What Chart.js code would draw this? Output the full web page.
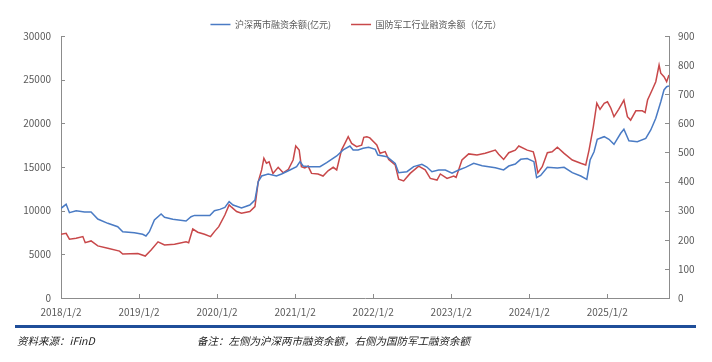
<!DOCTYPE html>
<html>
<head>
<meta charset="utf-8">
<script src="https://cdn.jsdelivr.net/npm/chart.js@4.4.1/dist/chart.umd.min.js"></script>
<style>
    body { margin: 0; background: #fff; }
    #wrap { position: relative; width: 712px; height: 362px; overflow: hidden; }
    .rule { position: absolute; left: 15px; top: 325px; width: 681px; height: 3px; background: #1f4e99; }
    .note { position: absolute; top: 333px; font: italic 10.5px "Noto Sans CJK SC", sans-serif; color: #222; white-space: nowrap; }
</style>
</head>
<body>
<div id="wrap">
    <canvas id="chart" width="712" height="362"></canvas>
    <div class="rule"></div>
    <div class="note" style="left:17px">资料来源：iFinD</div>
    <div class="note" style="left:197px">备注：左侧为沪深两市融资余额，右侧为国防军工融资余额</div>
</div>
<script>
const seriesNames = ['沪深两市融资余额(亿元)', '国防军工行业融资余额（亿元）'];
const yearLabels = ['2018/1/2', '2019/1/2', '2020/1/2', '2021/1/2', '2022/1/2', '2023/1/2', '2024/1/2', '2025/1/2'];

// 沪深两市融资余额, 亿元 (left axis)
const marginDates = [
    '2018-01-02', '2018-01-26', '2018-02-11', '2018-03-12', '2018-04-21', '2018-05-21', '2018-06-22', '2018-08-08',
    '2018-09-24', '2018-10-17', '2018-12-11', '2019-01-19', '2019-02-04', '2019-02-20', '2019-03-13', '2019-04-14',
    '2019-04-30', '2019-06-08', '2019-08-09', '2019-09-02', '2019-09-18', '2019-11-29', '2019-12-20', '2020-01-15',
    '2020-02-08', '2020-02-28', '2020-03-16', '2020-04-25', '2020-06-03', '2020-06-27', '2020-07-12', '2020-07-28',
    '2020-08-28', '2020-10-06', '2020-10-30', '2020-12-08', '2021-01-09', '2021-01-25', '2021-02-09', '2021-03-10',
    '2021-04-27', '2021-05-28', '2021-07-14', '2021-08-14', '2021-09-15', '2021-09-30', '2021-10-23', '2021-11-16',
    '2021-12-11', '2022-01-12', '2022-01-24', '2022-03-06', '2022-04-14', '2022-04-30', '2022-06-08', '2022-07-09',
    '2022-08-17', '2022-09-10', '2022-10-03', '2022-11-04', '2022-12-05', '2023-01-06', '2023-02-07', '2023-03-08',
    '2023-04-16', '2023-05-25', '2023-07-26', '2023-09-04', '2023-09-28', '2023-10-28', '2023-11-23', '2023-12-23',
    '2024-01-24', '2024-02-06', '2024-02-25', '2024-03-26', '2024-05-12', '2024-06-13', '2024-07-21', '2024-08-30',
    '2024-09-28', '2024-10-13', '2024-11-01', '2024-11-16', '2024-12-18', '2025-01-10', '2025-02-03', '2025-03-04',
    '2025-03-19', '2025-04-12', '2025-05-21', '2025-06-30', '2025-07-23', '2025-08-16', '2025-09-09', '2025-09-24',
    '2025-10-06', '2025-10-17'
];
const marginValues = [
    10270, 10730, 9770, 10000, 9850, 9850, 9040, 8550,
    8160, 7590, 7480, 7290, 7100, 7590, 8930, 9620,
    9240, 9010, 8820, 9310, 9460, 9450, 10000, 10150,
    10380, 11030, 10650, 10300, 10650, 11220, 13320, 13970,
    14200, 13970, 14200, 14660, 15040, 15610, 15110, 15040,
    15040, 15500, 16260, 16950, 17400, 16950, 16950, 17140,
    17250, 17020, 16370, 16180, 15420, 14350, 14460, 15040,
    15310, 15000, 14460, 14660, 14660, 14280, 14660, 14960,
    15420, 15150, 14920, 14660, 15110, 15340, 15880, 15960,
    15610, 13780, 14040, 14960, 14880, 14960, 14350, 13970,
    13590, 15800, 16750, 18170, 18470, 18170, 17600, 18860,
    19320, 18010, 17900, 18280, 19240, 20580, 22480, 23820,
    24190, 24270
];

// 国防军工行业融资余额, 亿元 (right axis)
const defenseDates = [
    '2018-01-02', '2018-01-26', '2018-02-11', '2018-03-12', '2018-04-13', '2018-04-24', '2018-05-21', '2018-06-22',
    '2018-08-08', '2018-10-02', '2018-10-17', '2018-12-27', '2019-01-31', '2019-02-28', '2019-03-30', '2019-04-30',
    '2019-06-16', '2019-08-09', '2019-08-21', '2019-09-10', '2019-10-03', '2019-11-04', '2019-12-02', '2019-12-20',
    '2020-01-10', '2020-02-08', '2020-02-28', '2020-03-09', '2020-04-02', '2020-04-25', '2020-06-03', '2020-06-27',
    '2020-07-12', '2020-07-28', '2020-08-08', '2020-08-20', '2020-09-02', '2020-09-20', '2020-10-14', '2020-11-07',
    '2020-12-01', '2020-12-23', '2021-01-05', '2021-01-21', '2021-02-01', '2021-02-17', '2021-03-02', '2021-03-18',
    '2021-04-18', '2021-05-11', '2021-06-04', '2021-06-28', '2021-07-14', '2021-08-06', '2021-08-22', '2021-09-07',
    '2021-09-23', '2021-10-16', '2021-11-09', '2021-11-19', '2021-12-03', '2021-12-17', '2022-01-19', '2022-02-04',
    '2022-02-28', '2022-03-14', '2022-04-14', '2022-04-30', '2022-05-23', '2022-06-23', '2022-08-02', '2022-09-02',
    '2022-09-26', '2022-10-27', '2022-11-12', '2022-12-13', '2023-01-14', '2023-01-25', '2023-02-22', '2023-03-23',
    '2023-05-01', '2023-06-09', '2023-07-26', '2023-08-11', '2023-09-04', '2023-09-28', '2023-10-28', '2023-11-14',
    '2023-12-23', '2024-01-21', '2024-02-01', '2024-02-12', '2024-03-02', '2024-03-26', '2024-04-18', '2024-05-12',
    '2024-06-13', '2024-07-21', '2024-08-30', '2024-09-23', '2024-10-08', '2024-10-28', '2024-11-14', '2024-11-29',
    '2024-12-18', '2025-01-03', '2025-01-19', '2025-02-03', '2025-02-25', '2025-03-19', '2025-04-05', '2025-04-20',
    '2025-05-14', '2025-06-14', '2025-06-27', '2025-07-08', '2025-07-31', '2025-08-16', '2025-09-01', '2025-09-09',
    '2025-09-24', '2025-10-06', '2025-10-17'
];
const defenseValues = [
    219, 222, 202, 205, 211, 190, 196, 179,
    171, 161, 151, 153, 144, 165, 193, 182,
    185, 193, 190, 237, 226, 219, 211, 228,
    245, 285, 320, 312, 297, 291, 297, 314,
    400, 440, 480, 463, 468, 428, 449, 430,
    442, 474, 522, 508, 451, 447, 453, 428,
    426, 419, 437, 449, 440, 508, 531, 554,
    531, 520, 525, 552, 554, 550, 526, 497,
    503, 476, 457, 408, 402, 428, 453, 440,
    411, 405, 426, 411, 419, 414, 474, 495,
    491, 497, 508, 494, 476, 499, 508, 522,
    508, 502, 474, 430, 451, 499, 502, 518,
    497, 474, 463, 457, 508, 588, 669, 648,
    669, 674, 652, 623, 648, 680, 623, 611,
    643, 643, 637, 680, 717, 743, 800, 772,
    760, 743, 766
];

// years since 2018/1/2
function toYears(s) {
    const [y, m, d] = s.split('-').map(Number);
    return (y - 2018) + (m - 1) / 12 + (d - 2) / 365;
}
const toPoints = (dates, values) => dates.map((d, i) => ({ x: toYears(d), y: values[i] }));

const textColor = '#595959';
const axisColor = '#8c8c8c';
const tickFont = { family: '"Noto Sans CJK SC", sans-serif', size: 10 };

// short tick marks pointing into the plot, like the office chart
const innerTicks = {
    id: 'innerTicks',
    afterDatasetsDraw(chart) {
        const { ctx, chartArea, scales } = chart;
        ctx.save();
        ctx.strokeStyle = axisColor;
        ctx.lineWidth = 1;
        ctx.beginPath();
        scales.x.ticks.forEach(t => {
            if (t.value === 0) return;
            const px = Math.round(scales.x.getPixelForValue(t.value)) + 0.5;
            ctx.moveTo(px, chartArea.bottom);
            ctx.lineTo(px, chartArea.bottom - 4);
        });
        scales.y.ticks.forEach(t => {
            const py = Math.round(scales.y.getPixelForValue(t.value)) + 0.5;
            ctx.moveTo(chartArea.left, py);
            ctx.lineTo(chartArea.left + 4, py);
        });
        scales.y1.ticks.forEach(t => {
            const py = Math.round(scales.y1.getPixelForValue(t.value)) + 0.5;
            ctx.moveTo(chartArea.right, py);
            ctx.lineTo(chartArea.right - 4, py);
        });
        ctx.stroke();
        ctx.restore();
    }
};

const legendHeight = {
    id: 'legendHeight',
    beforeInit(chart) {
        const fit = chart.legend.fit;
        chart.legend.fit = function () {
            fit.bind(chart.legend)();
            this.height = 36;
        };
    }
};

const lastX = toYears(marginDates[marginDates.length - 1]);

new Chart(document.getElementById('chart'), {
    type: 'line',
    data: {
        datasets: [{
            label: seriesNames[0],
            data: toPoints(marginDates, marginValues),
            yAxisID: 'y',
            borderColor: '#4a7bc4',
            backgroundColor: '#4a7bc4',
            borderWidth: 1.5,
            pointRadius: 0,
            tension: 0
        }, {
            label: seriesNames[1],
            data: toPoints(defenseDates, defenseValues),
            yAxisID: 'y1',
            borderColor: '#c8484a',
            backgroundColor: '#c8484a',
            borderWidth: 1.5,
            pointRadius: 0,
            tension: 0
        }]
    },
    options: {
        responsive: false,
        animation: false,
        layout: { padding: 0 },
        plugins: {
            legend: {
                position: 'top',
                labels: {
                    usePointStyle: true,
                    pointStyle: 'line',
                    pointStyleWidth: 20,
                    boxHeight: 9,
                    padding: 20,
                    color: textColor,
                    font: { family: '"Noto Sans CJK SC", sans-serif', size: 9 }
                }
            },
            tooltip: { enabled: false }
        },
        scales: {
            x: {
                type: 'linear',
                min: 0,
                max: lastX,
                grid: { display: false, drawTicks: false },
                border: { display: true, color: axisColor },
                ticks: {
                    stepSize: 1,
                    includeBounds: false,
                    maxRotation: 0,
                    padding: 8,
                    color: textColor,
                    font: tickFont,
                    callback: v => yearLabels[v] ?? ''
                },
                afterFit: s => { s.height = 64; }
            },
            y: {
                position: 'left',
                min: 0,
                max: 30000,
                grid: { display: false, drawTicks: false },
                border: { display: true, color: axisColor },
                ticks: { stepSize: 5000, padding: 10, color: textColor, font: tickFont, callback: v => String(v) },
                afterFit: s => { s.width = 61; }
            },
            y1: {
                position: 'right',
                min: 0,
                max: 900,
                grid: { display: false, drawTicks: false },
                border: { display: true, color: axisColor },
                ticks: { stepSize: 100, padding: 9, color: textColor, font: tickFont, callback: v => String(v) },
                afterFit: s => { s.width = 43; }
            }
        }
    },
    plugins: [innerTicks, legendHeight]
});
</script>
</body>
</html>
